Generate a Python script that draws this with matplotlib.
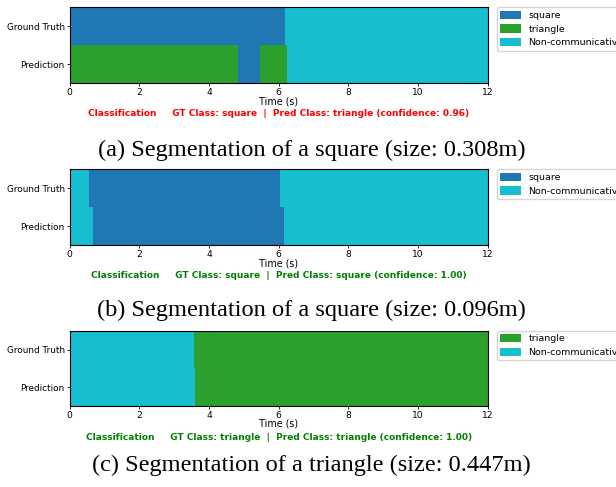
import matplotlib
matplotlib.use("Agg")
import matplotlib.pyplot as plt
from matplotlib.patches import Patch

# ---- data ----
colors = {"square": "#1f77b4", "triangle": "#2ca02c", "Non-communicative": "#17becf"}
rows = ["Prediction", "Ground Truth"]
x_ticks = [0, 2, 4, 6, 8, 10, 12]

# panel a
a_gt_labels = ["square", "Non-communicative"]
a_gt_bounds = [0, 6.19, 12]
a_pred_labels = ["triangle", "square", "triangle", "Non-communicative"]
a_pred_bounds = [0, 4.82, 5.46, 6.23, 12]
a_legend = ["square", "triangle", "Non-communicative"]
a_text = "Classification     GT Class: square  |  Pred Class: triangle (confidence: 0.96)"
a_caption = "(a) Segmentation of a square (size: 0.308m)"

# panel b
b_gt_labels = ["Non-communicative", "square", "Non-communicative"]
b_gt_bounds = [0, 0.55, 6.03, 12]
b_pred_labels = ["Non-communicative", "square", "Non-communicative"]
b_pred_bounds = [0, 0.66, 6.14, 12]
b_legend = ["square", "Non-communicative"]
b_text = "Classification     GT Class: square  |  Pred Class: square (confidence: 1.00)"
b_caption = "(b) Segmentation of a square (size: 0.096m)"

# panel c
c_gt_labels = ["Non-communicative", "triangle"]
c_gt_bounds = [0, 3.57, 12]
c_pred_labels = ["Non-communicative", "triangle"]
c_pred_bounds = [0, 3.61, 12]
c_legend = ["triangle", "Non-communicative"]
c_text = "Classification     GT Class: triangle  |  Pred Class: triangle (confidence: 1.00)"
c_caption = "(c) Segmentation of a triangle (size: 0.447m)"

panels = [
    (a_gt_labels, a_gt_bounds, a_pred_labels, a_pred_bounds, a_legend, a_text, "red", a_caption),
    (b_gt_labels, b_gt_bounds, b_pred_labels, b_pred_bounds, b_legend, b_text, "green", b_caption),
    (c_gt_labels, c_gt_bounds, c_pred_labels, c_pred_bounds, c_legend, c_text, "green", c_caption),
]

W, H = 616, 487
fig = plt.figure(figsize=(W / 100, H / 100), dpi=100)

ax_left, ax_right = 69.7, 487.7
ax_tops = [7.3, 169.3, 330.7]
ax_bots = [83.0, 245.0, 406.0]
time_y = [101, 263, 424]
cls_y = [114, 275.5, 437]
cap_y = [150, 310, 465]

for i, (gl, gb, pl, pb, leg, txt, tcol, cap) in enumerate(panels):
    ax = fig.add_axes([ax_left / W, 1 - ax_bots[i] / H,
                       (ax_right - ax_left) / W, (ax_bots[i] - ax_tops[i]) / H])
    for row, (labs, bnds) in enumerate([(pl, pb), (gl, gb)]):
        for lab, s, e in zip(labs, bnds[:-1], bnds[1:]):
            ax.barh(row, e - s, left=s, height=1.0, color=colors[lab], linewidth=0)
    ax.set_xlim(0, 12)
    ax.set_ylim(-0.5, 1.5)
    ax.set_yticks([0, 1])
    ax.set_yticklabels(rows, fontsize=6.4)
    ax.set_xticks(x_ticks)
    ax.set_xticklabels([str(t) for t in x_ticks], fontsize=6.6)
    ax.tick_params(axis="both", length=2, width=0.6, pad=1.5)
    for sp in ax.spines.values():
        sp.set_linewidth(0.8)
    cx = (ax_left + ax_right) / 2 / W
    fig.text(cx, 1 - time_y[i] / H, "Time (s)", ha="center", va="center", fontsize=6.9)
    fig.text(cx, 1 - cls_y[i] / H, txt, ha="center", va="center", fontsize=6.45,
             fontweight="bold", color=tcol)
    handles = [Patch(facecolor=colors[l], label=l) for l in leg]
    ax.legend(handles=handles, loc="upper left", bbox_to_anchor=(1.022, 1.0),
              fontsize=6.8, frameon=True, borderaxespad=0, handlelength=2.2,
              handleheight=1.0, labelspacing=0.45, borderpad=0.35, handletextpad=0.8,
              fancybox=True, framealpha=0.8)
    fig.text(311.5 / W, 1 - cap_y[i] / H, cap, ha="center", va="center", fontsize=17.6,
             family="Liberation Serif")

fig.savefig("out.png", dpi=100)
